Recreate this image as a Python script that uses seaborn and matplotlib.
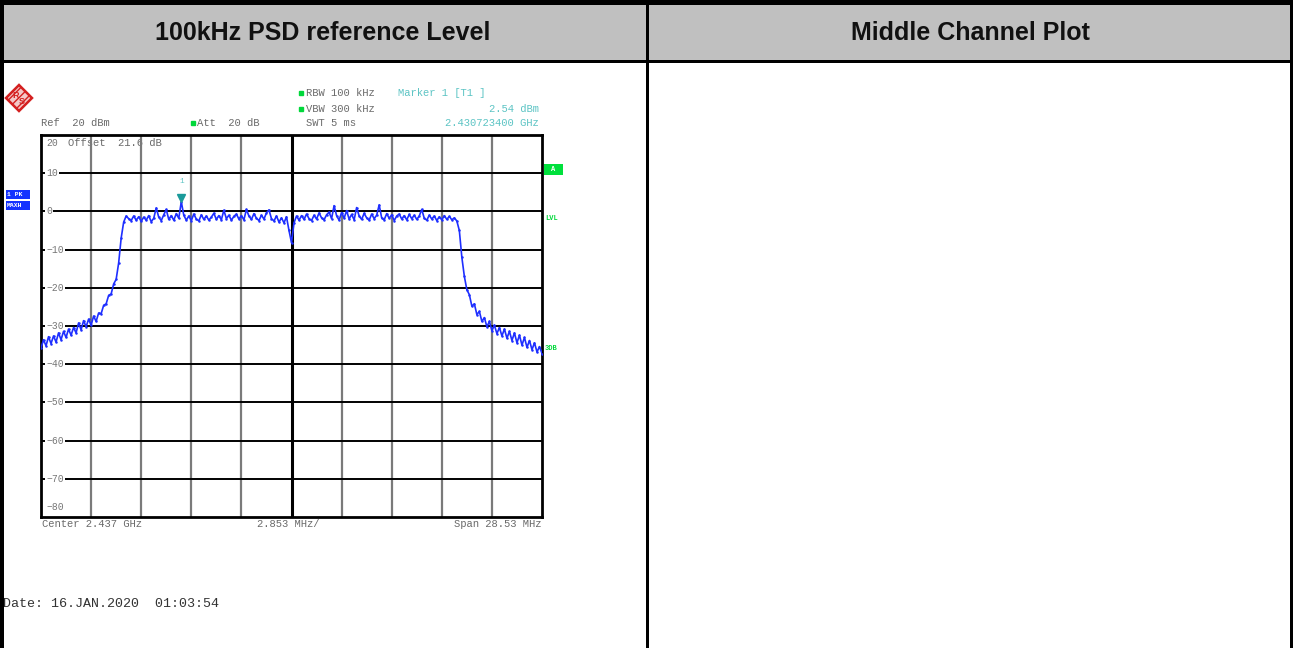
import numpy as np
import matplotlib
matplotlib.use("Agg")
import matplotlib.pyplot as plt
from matplotlib.patches import Rectangle, Polygon
import seaborn as sns

# ---------------- data ----------------
header_titles = ["100kHz PSD reference Level", "Middle Channel Plot"]
span_mhz = 28.53
y_ticks = [10, 0, -10, -20, -30, -40, -50, -60, -70]
marker_freq_mhz = 7.988      # 2.4307234 GHz - start freq
marker_level = 2.54

skirt_left = [-35.8, -33.6, -35.2, -32.8, -34.6, -32.6, -34.2, -31.8, -33.6, -31.4,
              -33.0, -30.8, -32.4, -30.4, -31.8, -29.2, -31.0, -28.6, -30.2, -28.2,
              -29.8, -27.4, -28.8, -26.6, -26.8, -24.6, -24.2, -22.0, -21.6, -19.0,
              -17.8, -13.5, -7.0, -2.8]
plateau_left = [-1.2, -1.9, -2.4, -1.2, -2.3, -1.4, -2.6, -1.5, -2.3, -1.1,
                -2.7, -1.8, 0.9, -1.5, -2.4, -0.9, 0.5, -2.1, -1.1, -2.3,
                -0.6, -1.8, 2.54, -1.0, -2.3, -1.2, -2.4, -0.7, -2.0, -2.5,
                -0.9, -2.1, -1.2, -2.3, -1.5, -0.5, -2.1, -1.1, -2.2, 0.3,
                -1.9, -1.0, -2.3, -1.3, -0.7, -2.0, -1.1, -2.2, 0.5, -1.2,
                -2.1, -0.6, -1.8, -2.4, -1.0, -2.0, -0.4, 0.4, -1.9, -2.5,
                -1.2, -2.8, -1.7, -3.0, -1.4]
center_dip = [-5.0, -8.2, -3.0]
plateau_right = [-1.2, -2.3, -1.1, -2.1, -0.7, -1.9, -2.4, -1.0, -2.0, -0.4,
                 -1.7, -2.2, -0.9, -0.2, -1.9, 1.5, -1.1, -2.3, -0.3, -1.8,
                 0.2, -2.0, -0.8, -2.2, 1.0, -1.2, -2.1, -0.5, -1.7, -2.3,
                 -0.7, -1.9, -1.0, 1.7, -1.7, -2.2, -0.6, -1.8, -0.9, -2.4,
                 -1.2, -0.7, -2.0, -1.1, -2.2, -0.8, -1.9, -1.0, -2.1, -1.2,
                 0.5, -1.8, -2.3, -1.0, -2.0, -1.2, -2.4, -1.4, -2.2, -1.1,
                 -2.1, -1.3, -2.2, -1.7]
skirt_right = [-2.5, -5.0, -12.0, -17.0, -20.5, -21.8, -24.8, -24.2, -27.0, -26.2,
               -28.8, -27.8, -30.2, -28.8, -31.2, -29.8, -32.0, -30.4, -32.6, -30.8,
               -33.2, -31.4, -33.8, -31.8, -34.4, -32.4, -35.0, -33.0, -35.6, -33.8,
               -36.2, -34.4, -36.8, -35.4, -37.2]

level_dbm = skirt_left + plateau_left + center_dip + plateau_right + skirt_right
# sweep points are evenly spaced across the span
freq_mhz = np.linspace(0, span_mhz, len(level_dbm))

# ---------------- figure ----------------
W, H = 1293, 648
sns.set_theme(style="white")
plt.rcParams["font.family"] = ["Liberation Sans", "DejaVu Sans"]
fig = plt.figure(figsize=(W / 100, H / 100), dpi=100)

bg = fig.add_axes([0, 0, 1, 1])
bg.set_xlim(0, W)
bg.set_ylim(H, 0)
bg.axis("off")

# table frame
bg.add_patch(Rectangle((0, 0), W, 61, facecolor="#c0c0c0", edgecolor="none"))
for (x, y, w, h) in [(0, 0, W, 5), (0, 0, 4, H), (0, 59.5, W, 3), (645.5, 0, 3, H), (1290, 0, 3, H)]:
    bg.add_patch(Rectangle((x, y), w, h, facecolor="black", edgecolor="none"))
bg.text(323, 33, header_titles[0], ha="center", va="center", fontsize=18, fontweight="bold", color="#111111")
bg.text(970, 33, header_titles[1], ha="center", va="center", fontsize=18, fontweight="bold", color="#111111")

# analyzer annotation texts
mono = ["Liberation Mono", "DejaVu Sans Mono"]
gray = "#6a6a6a"
teal = "#5cc4c4"
green = "#00d83a"
fs = 7.6
bg.text(306, 93, "RBW 100 kHz", family=mono, fontsize=fs, color=gray, va="center")
bg.text(306, 109, "VBW 300 kHz", family=mono, fontsize=fs, color=gray, va="center")
bg.text(306, 123, "SWT 5 ms", family=mono, fontsize=fs, color=gray, va="center")
bg.plot([301, 301], [93, 109], ls="none", marker="s", ms=2.2, color=green)
bg.text(398, 93, "Marker 1 [T1 ]", family=mono, fontsize=fs, color=teal, va="center")
bg.text(539, 109, "2.54 dBm", family=mono, fontsize=fs, color=teal, va="center", ha="right")
bg.text(539, 123, "2.430723400 GHz", family=mono, fontsize=fs, color=teal, va="center", ha="right")
bg.text(41, 123, "Ref  20 dBm", family=mono, fontsize=fs, color=gray, va="center")
bg.plot([193], [123], ls="none", marker="s", ms=2.2, color=green)
bg.text(197, 123, "Att  20 dB", family=mono, fontsize=fs, color=gray, va="center")
bg.text(42, 524, "Center 2.437 GHz", family=mono, fontsize=fs, color=gray, va="center")
bg.text(257, 524, "2.853 MHz/", family=mono, fontsize=fs, color=gray, va="center")
bg.text(541, 524, "Span 28.53 MHz", family=mono, fontsize=fs, color=gray, va="center", ha="right")
bg.text(3, 604, "Date: 16.JAN.2020  01:03:54", family=mono, fontsize=9.6, color="#333333", va="center")

# left trace labels
for (y0, lab) in [(190, "1 PK"), (201, "MAXH")]:
    bg.add_patch(Rectangle((6, y0), 24, 9, facecolor="#1432ff", edgecolor="none"))
    bg.text(7, y0 + 4.7, lab, family=mono, fontsize=4.6, fontweight="bold", color="white", va="center")
# right labels
bg.add_patch(Rectangle((544, 164), 19, 11, facecolor="#00e03c", edgecolor="none"))
bg.text(553.5, 169.8, "A", family=mono, fontsize=5, fontweight="bold", color="white", va="center", ha="center")
bg.text(545, 218, "LVL", family=mono, fontsize=5, fontweight="bold", color=green, va="center")
bg.text(545, 349, "3DB", family=mono, fontsize=5, fontweight="bold", color=green, va="center")

# R&S logo
cx, cy, r = 19, 98, 13
bg.add_patch(Polygon([(cx, cy - r), (cx + r, cy), (cx, cy + r), (cx - r, cy)], closed=True,
                     facecolor="#f4c8c8", edgecolor="#d42020", lw=1.8, hatch="////"))
bg.text(cx - 3, cy - 3, "R", fontsize=6.5, fontweight="bold", color="#d42020", ha="center", va="center")
bg.text(cx + 3, cy + 4, "S", fontsize=6.5, fontweight="bold", color="#d42020", ha="center", va="center")

# ---------------- spectrum axes ----------------
L, R, T, B = 41, 542, 135, 517
ax = fig.add_axes([L / W, 1 - B / H, (R - L) / W, (B - T) / H])
ax.set_xlim(0, span_mhz)
ax.set_ylim(-80, 20)
ax.set_facecolor("white")
ax.set_xticks([])
ax.set_yticks([])
for s in ax.spines.values():
    s.set_color("black")
    s.set_linewidth(2)

div = span_mhz / 10
for k in range(1, 10):
    if k == 5:
        ax.axvline(k * div, color="black", lw=2.2, zorder=1)
    else:
        ax.axvline(k * div, color="#7a7a7a", lw=1.6, zorder=1)
tfs = 7
for yv in y_ticks:
    ax.axhline(yv, color="black", lw=1.4, zorder=1)
    ax.text(0.3, yv, ("%d" % yv).replace("-", "\u2212"), family=mono, fontsize=tfs, color="#777777",
            va="center", ha="left", zorder=2,
            bbox=dict(facecolor="white", edgecolor="none", pad=0.6))
ax.text(0.3, -77.4, "\u221280", family=mono, fontsize=tfs, color="#777777", va="center", ha="left")
ax.text(0.3, 17.9, "20", family=mono, fontsize=tfs, color="#777777", va="center", ha="left", zorder=2)
ax.text(1.55, 17.9, "Offset  21.6 dB", family=mono, fontsize=fs, color=gray, va="center", ha="left", zorder=0.5)

sns.lineplot(x=freq_mhz, y=level_dbm, ax=ax, color="#1e2fff", linewidth=1.2,
             marker="o", markersize=1.8, markeredgewidth=0, estimator=None, zorder=3)

ax.plot([marker_freq_mhz], [marker_level + 0.9], marker="v", ms=6, color="#1a9a9a", ls="none", zorder=4)
ax.text(marker_freq_mhz, marker_level + 5.3, "1", family=mono, fontsize=5.5, color=teal, ha="center", va="center")

fig.savefig("out.png", dpi=100)
